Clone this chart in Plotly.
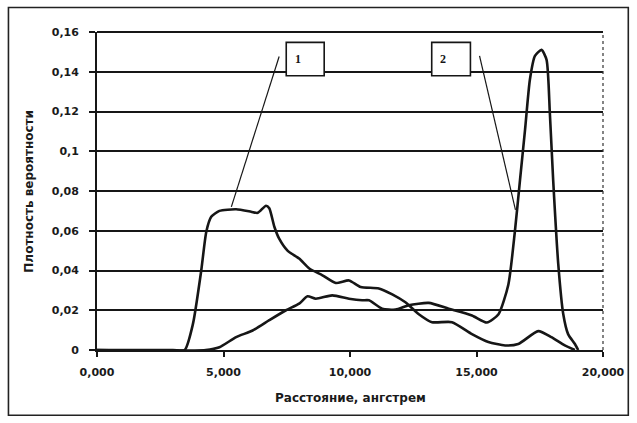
import plotly.graph_objects as go

# Curve 1 (broad distribution)
x1 = [0, 3000, 3465, 3790, 4120, 4320, 4515, 4840, 5500, 6090, 6350, 6680, 6810, 7010, 7200,
      7530, 7990, 8390, 8910, 9440, 9960, 10420, 11140, 11670, 12190, 12720, 13240, 14030,
      14820, 15470, 16130, 16650, 17440, 17960, 18490, 18890]
y1 = [0, 0, 0, 0.013, 0.040, 0.0595, 0.067, 0.070, 0.0708, 0.0696, 0.069, 0.0726, 0.0713, 0.062, 0.056,
      0.050, 0.046, 0.041, 0.0376, 0.0337, 0.035, 0.0317, 0.031, 0.028, 0.024, 0.018, 0.014, 0.014,
      0.008, 0.004, 0.0023, 0.003, 0.0095, 0.0065, 0.0023, 0.0]

# Curve 2 (distribution with sharp peak)
x2 = [0, 4300, 4840, 5500, 6150, 6810, 7470, 7990, 8320, 8650, 9300, 9960, 10480, 10750, 11270,
      11800, 12320, 13110, 13900, 14820, 15410, 15870, 16260, 16520, 16720, 16920, 17110, 17310,
      17570, 17770, 17900, 18030, 18230, 18430, 18620, 18890, 19020]
y2 = [0, 0, 0.0014, 0.0065, 0.0098, 0.015, 0.020, 0.0233, 0.027, 0.0258, 0.0275, 0.0258, 0.025, 0.025, 0.0208,
      0.0203, 0.0225, 0.0237, 0.0208, 0.0174, 0.0138, 0.018, 0.033, 0.060, 0.0856, 0.111, 0.136, 0.148,
      0.151, 0.146, 0.119, 0.0856, 0.0435, 0.018, 0.008, 0.003, 0.0]

y_ticks = [0, 0.02, 0.04, 0.06, 0.08, 0.1, 0.12, 0.14, 0.16]
y_labels = ["0", "0,02", "0,04", "0,06", "0,08", "0,1", "0,12", "0,14", "0,16"]
x_ticks = [0, 5000, 10000, 15000, 20000]
x_labels = ["0,000", "5,000", "10,000", "15,000", "20,000"]

# Callouts: label, box x-range, box y-range, line start, line end
callouts = [
    ("1", (7480, 8980), (0.138, 0.1548), (7200, 0.1477), (5310, 0.072)),
    ("2", (13230, 14760), (0.138, 0.1548), (15120, 0.148), (16540, 0.0705)),
]

ink = "#161616"
bold = dict(family="DejaVu Sans", size=11, color="#1a1a1a", weight="bold")

fig = go.Figure()
for xs, ys in [(x1, y1), (x2, y2)]:
    fig.add_trace(go.Scatter(x=xs, y=ys, mode="lines",
                             line=dict(color=ink, width=2.6, shape="spline", smoothing=0.6),
                             showlegend=False, hoverinfo="skip"))

shapes = []
annotations = []
for lab, (bx0, bx1), (by0, by1), (lx0, ly0), (lx1, ly1) in callouts:
    shapes.append(dict(type="line", xref="x", yref="y", x0=lx0, y0=ly0, x1=lx1, y1=ly1,
                       line=dict(color=ink, width=1.2)))
    shapes.append(dict(type="rect", xref="x", yref="y", x0=bx0, y0=by0, x1=bx1, y1=by1,
                       line=dict(color=ink, width=1.6), fillcolor="white"))
    annotations.append(dict(x=bx0 + (bx1 - bx0) * 0.3, y=(by0 + by1) / 2, xref="x", yref="y",
                            text=lab, showarrow=False,
                            font=dict(family="Liberation Serif", size=12, color=ink, weight="bold")))

# top border line of plot area (at 0.16)
shapes.append(dict(type="line", xref="paper", yref="paper", x0=0, x1=1, y0=1, y1=1,
                   line=dict(color=ink, width=1.8), layer="below"))
# right border of plot area (dotted)
shapes.append(dict(type="line", xref="paper", yref="paper", x0=1, x1=1, y0=0, y1=1,
                   line=dict(color="#333333", width=1.2, dash="dot")))
# outer chart frame
shapes.append(dict(type="rect", xref="paper", yref="paper", x0=-0.175, x1=1.05, y0=-0.205, y1=1.077,
                   line=dict(color="#222222", width=1.6), layer="below"))

annotations.append(dict(x=0.5, y=-0.15, xref="paper", yref="paper", yanchor="middle",
                        text="Расстояние, ангстрем", showarrow=False,
                        font=dict(family="DejaVu Sans", size=12, color="#1a1a1a", weight="bold")))
annotations.append(dict(x=-0.135, y=0.50, xref="paper", yref="paper", xanchor="center",
                        text="Плотность вероятности",
                        textangle=-90, showarrow=False,
                        font=dict(family="DejaVu Sans", size=12, color="#1a1a1a", weight="bold")))

fig.update_layout(
    width=637, height=423,
    margin=dict(l=97, r=32, t=32, b=73),
    paper_bgcolor="white", plot_bgcolor="white",
    shapes=shapes, annotations=annotations,
    xaxis=dict(range=[0, 20000], tickvals=x_ticks, ticktext=x_labels, showgrid=False,
               zeroline=False, showline=True, linecolor=ink, linewidth=1.8,
               ticks="outside", ticklen=5, tickwidth=1.5,
               tickcolor=ink, tickfont=bold, ticklabelstandoff=6),
    yaxis=dict(range=[0, 0.16], tickvals=y_ticks, ticktext=y_labels, showgrid=True,
               gridcolor=ink, gridwidth=1.8, zeroline=False, showline=True, linecolor=ink,
               linewidth=1.8, ticks="outside", ticklen=6, tickwidth=1.5, tickcolor=ink,
               tickfont=bold, ticklabelstandoff=8),
)

fig.write_html("out.html")
